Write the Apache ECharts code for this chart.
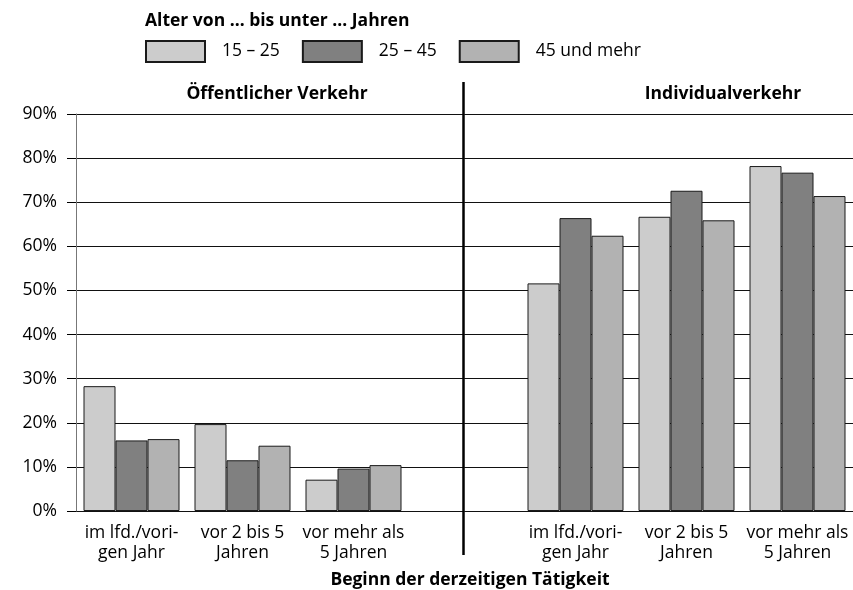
<!DOCTYPE html>
<html>
<head>
<meta charset="utf-8">
<script src="https://cdn.jsdelivr.net/npm/echarts@6/dist/echarts.min.js"></script>
<style>
  html, body { margin: 0; padding: 0; background: #fff; }
  #chart { width: 853px; height: 590px; }
</style>
</head>
<body>
<div id="chart"></div>
<script>
// Categories: three for public transport, an empty slot as divider, three for private transport
const categories = [
  'im lfd./vori-\ngen Jahr', 'vor 2 bis 5\nJahren', 'vor mehr als\n5 Jahren',
  '',
  'im lfd./vori-\ngen Jahr', 'vor 2 bis 5\nJahren', 'vor mehr als\n5 Jahren'
];
const seriesNames = ['15 – 25', '25 – 45', '45 und mehr'];
const age15to25 = [28.3, 19.7, 7.1, null, 51.6, 66.7, 78.2];
const age25to45 = [16.0, 11.5, 9.6, null, 66.4, 72.6, 76.7];
const age45plus = [16.3, 14.8, 10.4, null, 62.4, 65.9, 71.4];
const panelTitles = ['Öffentlicher Verkehr', 'Individualverkehr'];
const yTicks = [0, 10, 20, 30, 40, 50, 60, 70, 80, 90];

const FONT = '"Open Sans", "Noto Sans", sans-serif';
const FS = 17.5;
const colors = ['#cccccc', '#808080', '#b2b2b2'];
const values = [age15to25, age25to45, age45plus];

const chart = echarts.init(document.getElementById('chart'), null, { renderer: 'canvas' });

const boldText = { fontFamily: FONT, fontSize: FS, fontWeight: 'bold', color: '#000' };

const option = {
  animation: false,
  backgroundColor: '#ffffff',
  textStyle: { fontFamily: FONT, color: '#000' },
  title: [
    { text: 'Alter von … bis unter … Jahren', left: 140, top: 7, textStyle: boldText },
    { text: panelTitles[0], left: 272, top: 80, textAlign: 'center', textStyle: boldText },
    { text: panelTitles[1], left: 718, top: 80, textAlign: 'center', textStyle: boldText },
    { text: 'Beginn der derzeitigen Tätigkeit', left: 465, top: 566, textAlign: 'center', textStyle: boldText }
  ],
  legend: {
    left: 140, top: 35,
    itemWidth: 59, itemHeight: 21, itemGap: 22,
    icon: 'rect',
    textStyle: { fontFamily: FONT, fontSize: FS, color: '#000', padding: [0, 0, 0, 12] },
    data: seriesNames
  },
  grid: { left: 76, right: -4, top: 114, bottom: 79, containLabel: false },
  xAxis: {
    type: 'category',
    data: categories,
    axisLine: { show: false },
    axisTick: { show: false },
    axisLabel: {
      interval: 0, fontFamily: FONT, fontSize: FS, lineHeight: 20, color: '#000', margin: 12
    },
    splitLine: { show: false }
  },
  yAxis: {
    type: 'value',
    min: yTicks[0], max: yTicks[yTicks.length - 1], interval: 10,
    axisLine: { show: true, lineStyle: { color: '#777', width: 1 } },
    axisTick: { show: true, length: 9, lineStyle: { color: '#000' } },
    axisLabel: { formatter: '{value}%', fontFamily: FONT, fontSize: FS, color: '#000', margin: 19 },
    splitLine: { show: true, lineStyle: { color: '#111', width: 1 } }
  },
  series: seriesNames.map((name, i) => ({
    name: name,
    type: 'bar',
    data: values[i],
    barWidth: 32,
    barGap: '0%',
    itemStyle: { color: colors[i], borderColor: '#1a1a1a', borderWidth: 1 }
  }))
};

chart.setOption(option);

// Vertical divider between the two panels, placed on the empty category slot
const dividerX = chart.convertToPixel({ xAxisIndex: 0 }, 3);
chart.setOption({
  graphic: [{
    type: 'line',
    shape: { x1: dividerX - 1, y1: 82, x2: dividerX - 1, y2: 555 },
    style: { stroke: '#000', lineWidth: 2.5 },
    z: 10
  }]
});
</script>
</body>
</html>
